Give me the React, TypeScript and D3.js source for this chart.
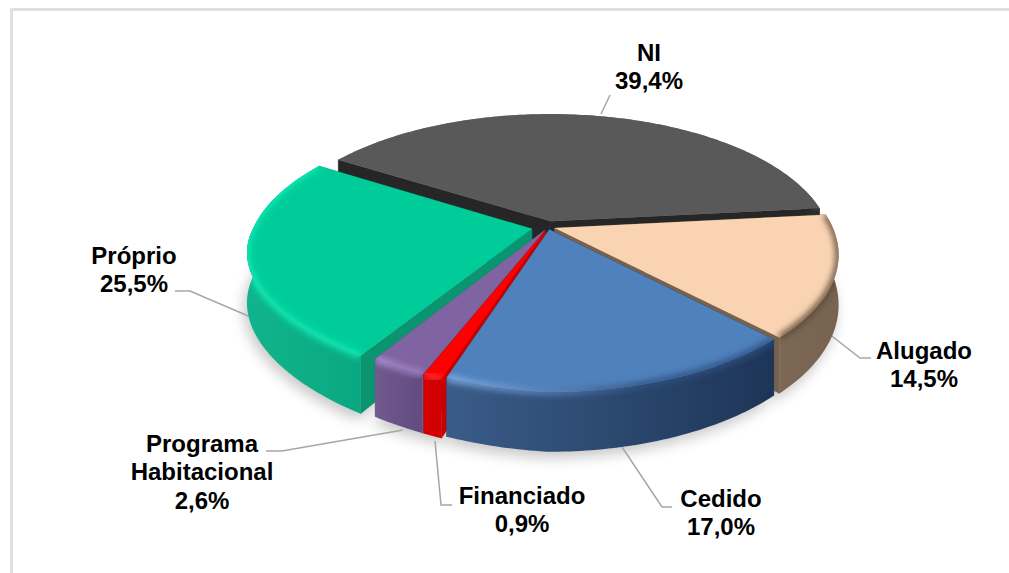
import React from "react";
import * as d3 from "d3";

const categories = ["NI", "Alugado", "Cedido", "Financiado", "Programa Habitacional", "Próprio"];
const values = [39.4, 14.5, 17.0, 0.9, 2.6, 25.5];
const valueLabels = ["39,4%", "14,5%", "17,0%", "0,9%", "2,6%", "25,5%"];

const topColors = ["#595959", "#fad4b2", "#4f81bd", "#ff0000", "#8064a2", "#00cc99"];
const cutColors = ["#262626", "#77624f", "#2b4a73", "#c80000", "#6a5288", "#0a9470"];
const wallLeft = ["#3a3a3a", "#7d6856", "#3a5c88", "#d40000", "#72598f", "#10b48c"];
const wallRight = ["#2a2a2a", "#786351", "#1d3557", "#d00000", "#614b80", "#0aa880"];
const glowLeft = ["#595959", "#5d4a38", "#86b2ea", "#ff3030", "#b498d8", "#10eab4"];
const glowRight = ["#595959", "#5d4a38", "#2f5080", "#ff3030", "#a084c4", "#10eab4"];
const explode = [0.045, 0.025, 0.02, 0.03, 0.03, 0.06];
const drawOrder = [0, 1, 5, 4, 3, 2];

const W = 1009, H = 573;
const CX = 548, CY = 227, RX = 278, A = 130, K = 0.193, DEPTH = 48, WARP = 18;
const START = (-58 * Math.PI) / 180;

type P = [number, number];
const proj = (u: number, v: number, z: number): P => {
  const d = 1 - K * v;
  const warp = WARP * Math.max(0, -u) * Math.max(0, v);
  return [CX + (RX * u) / d, CY + (A * v + DEPTH * z) / d - warp];
};

const line = d3.line<P>().curve(d3.curveLinear);
const arcs = d3.pie<number>().sort(null).startAngle(START).endAngle(START + 2 * Math.PI)(values);

const slices = arcs.map((a, i) => {
  const mid = (a.startAngle + a.endAngle) / 2;
  const du = explode[i] * Math.sin(mid);
  const dv = -explode[i] * Math.cos(mid);
  const n = Math.max(4, Math.ceil((a.endAngle - a.startAngle) * 60));
  const thetas = d3.range(n + 1).map((k) => a.startAngle + ((a.endAngle - a.startAngle) * k) / n);
  const rimAt = (ts: number[], z: number) => ts.map((t) => proj(du + Math.sin(t), dv - Math.cos(t), z));
  const apex = (z: number) => proj(du, dv, z);
  const topRim = rimAt(thetas, 0);
  const botRim = rimAt(thetas, 1);
  const front = thetas.filter((t) => -Math.cos(t) > -0.25);
  const top = line([apex(0), ...topRim])! + "Z";
  const wall = front.length > 1 ? line([...rimAt(front, 0), ...rimAt(front, 1).reverse()])! + "Z" : "";
  const cutA = line([apex(0), topRim[0], botRim[0], apex(1)])! + "Z";
  const cutB = line([apex(0), topRim[n], botRim[n], apex(1)])! + "Z";
  const bottom = line([apex(1), ...botRim])! + "Z";
  const edge = line(topRim)!;
  const xs = topRim.map((p) => p[0]);
  return { i, top, wall, cutA, cutB, bottom, edge, x0: d3.min(xs)!, x1: d3.max(xs)! };
});

const leaderLines: P[][] = [
  [[610, 95], [601, 114]],
  [[828, 333], [860, 358], [871, 358]],
  [[622, 447], [662, 507], [672, 507]],
  [[435, 441], [441, 505], [452, 505]],
  [[403, 430], [282, 451], [266, 451]],
  [[253, 318], [190, 291], [175, 291]],
];
const labelAnchors: P[] = [[649, 61], [924, 359], [721, 507], [522, 504], [202, 452], [134, 264]];
const labelLines = [["NI"], ["Alugado"], ["Cedido"], ["Financiado"], ["Programa", "Habitacional"], ["Próprio"]];

export default function App() {
  return (
    <svg width={W} height={H} style={{ position: "fixed", left: 0, top: 0, background: "#fff" }}
      fontFamily="'Liberation Sans', Arial, sans-serif">
      <defs>
        <filter id="shadow" x="-20%" y="-20%" width="140%" height="140%"><feGaussianBlur stdDeviation="7" /></filter>
        <filter id="bevel" x="-20%" y="-20%" width="140%" height="140%"><feGaussianBlur stdDeviation="3" /></filter>
        {slices.map((s) => (
          <React.Fragment key={s.i}>
            <linearGradient id={`wall${s.i}`} gradientUnits="userSpaceOnUse" x1={s.x0} x2={s.x1} y1={0} y2={0}>
              <stop offset="0" stopColor={wallLeft[s.i]} />
              <stop offset="1" stopColor={wallRight[s.i]} />
            </linearGradient>
            <linearGradient id={`glow${s.i}`} gradientUnits="userSpaceOnUse" x1={s.x0} x2={s.x1} y1={0} y2={0}>
              <stop offset="0" stopColor={glowLeft[s.i]} />
              <stop offset="0.6" stopColor={glowRight[s.i]} />
              <stop offset="1" stopColor={glowRight[s.i]} />
            </linearGradient>
            <clipPath id={`clip${s.i}`}>
              <path d={s.top} />
              <path d={s.wall} />
            </clipPath>
          </React.Fragment>
        ))}
      </defs>

      <path d={`M11.5 ${H}V9.5H${W}`} fill="none" stroke="#e0e0e0" strokeWidth={3} />

      <g filter="url(#shadow)" transform="translate(-3,6)" fill="#000" opacity={0.22}>
        {slices.map((s) => <path key={s.i} d={s.bottom} />)}
      </g>

      {leaderLines.map((pts, i) => (
        <path key={i} d={line(pts)!} fill="none" stroke="#a6a6a6" strokeWidth={1.5} />
      ))}

      {drawOrder.map((idx) => {
        const s = slices[idx];
        return (
          <g key={idx}>
            <path d={s.cutA} fill={cutColors[idx]} stroke={cutColors[idx]} strokeWidth={0.5} />
            <path d={s.cutB} fill={cutColors[idx]} stroke={cutColors[idx]} strokeWidth={0.5} />
            <path d={s.wall} fill={`url(#wall${idx})`} />
            <path d={s.top} fill={topColors[idx]} />
            <g clipPath={`url(#clip${idx})`}>
              <path d={s.edge} fill="none" stroke={`url(#glow${idx})`} strokeWidth={6} filter="url(#bevel)" />
            </g>
          </g>
        );
      })}

      {categories.map((c, i) => {
        const rows = [...labelLines[i], valueLabels[i]];
        const [x, y] = labelAnchors[i];
        return (
          <text key={c} x={x} y={y} textAnchor="middle" fontSize={24} fontWeight={700} fill="#000">
            {rows.map((r, k) => (
              <tspan key={k} x={x} y={y + k * 28.3}>{r}</tspan>
            ))}
          </text>
        );
      })}
    </svg>
  );
}
